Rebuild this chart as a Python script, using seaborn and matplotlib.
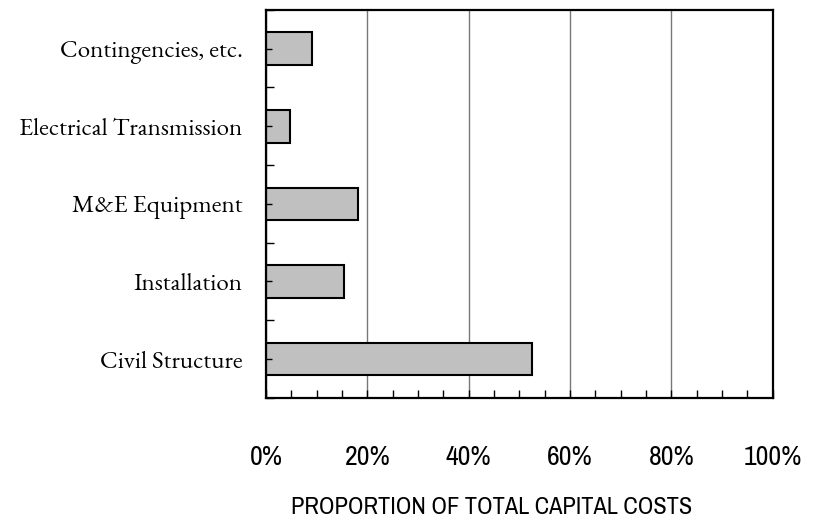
import numpy as np
import pandas as pd
import matplotlib
matplotlib.use("Agg")
import matplotlib.pyplot as plt
import seaborn as sns
from matplotlib import font_manager
from matplotlib.ticker import MultipleLocator, FixedLocator, PercentFormatter

# cost components, top to bottom as drawn
components = ["Contingencies, etc.", "Electrical Transmission", "M&E Equipment",
              "Installation", "Civil Structure"]
shares = [0.091, 0.047, 0.181, 0.154, 0.524]

df = pd.DataFrame({"component": components, "share": shares})


def pick(prefs):
    have = {f.name for f in font_manager.fontManager.ttflist}
    for p in prefs:
        if p in have:
            return p
    return "DejaVu Sans"


sans_narrow = pick(["Liberation Sans Narrow", "Arial Narrow", "Archivo Narrow",
                    "PT Sans Narrow", "Roboto Condensed", "Open Sans Condensed",
                    "Liberation Sans"])
serif = pick(["EB Garamond", "Cormorant Garamond", "Liberation Serif"])

sns.set_style("white")
plt.rcParams["text.color"] = "black"
plt.rcParams["xtick.color"] = "black"
plt.rcParams["ytick.color"] = "black"

fig, ax = plt.subplots(figsize=(8.16, 5.18), dpi=100)
fig.subplots_adjust(left=0.326, right=0.947, top=0.981, bottom=0.232)

sns.barplot(data=df, x="share", y="component", order=components, orient="h",
            color="#c0c0c0", edgecolor="black", linewidth=1.5, width=0.42,
            saturation=1, ax=ax, zorder=2)

ax.set_xlim(0, 1)
ax.set_ylim(len(components) - 0.5, -0.5)

ax.xaxis.set_major_locator(MultipleLocator(0.2))
ax.xaxis.set_minor_locator(MultipleLocator(0.05))
ax.xaxis.set_major_formatter(PercentFormatter(1.0, decimals=0))
ax.grid(False)
# gridlines behind the bars, ticks stay on top
for gx in ax.get_xticks()[1:-1]:
    ax.axvline(gx, color="#777777", linewidth=1.0, zorder=0.5)
ax.set_axisbelow(False)

ax.yaxis.set_minor_locator(FixedLocator(np.arange(-0.5, len(components), 1.0)))

for s in ax.spines.values():
    s.set_visible(True)
    s.set_color("black")
    s.set_linewidth(1.6)

ax.tick_params(axis="x", which="both", direction="in", length=6, width=1,
               color="black", pad=34, bottom=True)
ax.tick_params(axis="y", which="major", direction="in", length=4.5, width=1,
               color="black", pad=17, left=True)
ax.tick_params(axis="y", which="minor", direction="in", length=6, width=1,
               color="black", left=True)

for lab in ax.get_xticklabels():
    lab.set_fontfamily(sans_narrow)
    lab.set_fontsize(20)
    lab.set_color("black")
for lab in ax.get_yticklabels():
    lab.set_fontfamily(serif)
    lab.set_fontsize(18)
    lab.set_color("black")

ax.set_ylabel("")
ax.set_xlabel("PROPORTION OF TOTAL CAPITAL COSTS", family=sans_narrow,
              fontsize=17.5, color="black")
ax.xaxis.set_label_coords((492 - 266) / 507, -0.255)

fig.savefig("out.png", dpi=100)
